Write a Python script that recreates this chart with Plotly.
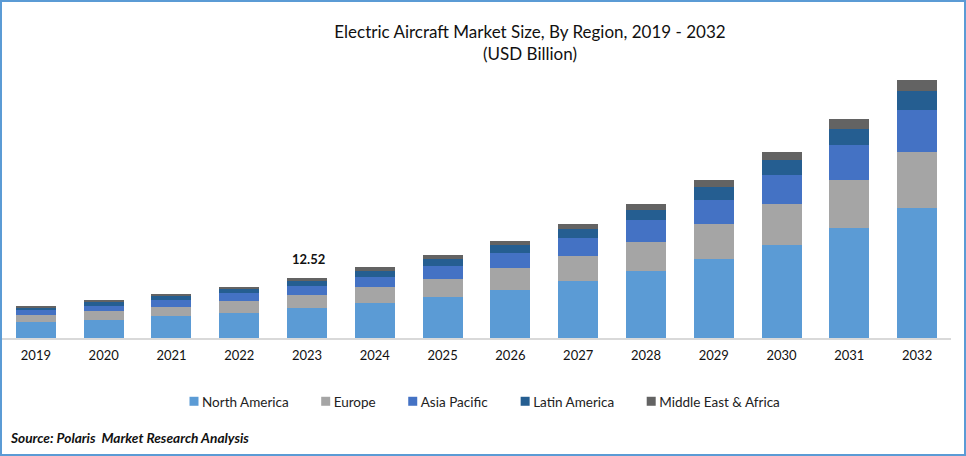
import plotly.graph_objects as go

years = ["2019","2020","2021","2022","2023","2024","2025","2026","2027","2028","2029","2030","2031","2032"]
north_america = [3.32,3.74,4.57,5.19,6.23,7.27,8.52,9.97,11.84,13.92,16.41,19.31,22.84,27.0]
europe = [1.45,1.87,1.87,2.49,2.70,3.32,3.74,4.57,5.19,6.02,7.27,8.52,9.97,11.63]
asia_pacific = [1.04,1.04,1.45,1.66,1.87,2.08,2.70,3.12,3.74,4.57,4.98,6.02,7.27,8.72]
latin_america = [0.56,0.83,0.83,0.83,1.04,1.25,1.45,1.66,1.87,2.08,2.70,3.12,3.26,3.95]
middle_east_africa = [0.27,0.42,0.42,0.42,0.68,0.83,0.83,0.83,1.04,1.25,1.45,1.66,2.14,2.28]
series_names = ["North America","Europe","Asia Pacific","Latin America","Middle East & Africa"]
colors = ["#5B9BD5","#A5A5A5","#4472C4","#255E91","#636363"]
label_year = "2023"
label_value = 12.52

FONT = "Lato, Carlito, Calibri, sans-serif"
fig = go.Figure()
for name, vals, c in zip(series_names, [north_america, europe, asia_pacific, latin_america, middle_east_africa], colors):
    fig.add_bar(x=years, y=vals, name=name, marker=dict(color=c, line=dict(width=0)))

fig.update_layout(
    barmode="stack", bargap=0.41, width=966, height=456,
    margin=dict(l=2, r=15, t=62, b=118, autoexpand=False),
    paper_bgcolor="white", plot_bgcolor="white",
    font=dict(family=FONT, size=13, color="#111111"),
    title=dict(text="Electric Aircraft Market Size, By Region, 2019 - 2032<br>(USD Billion)",
               x=530/966, xanchor="center", xref="container", y=1-38/456, yanchor="top", yref="container",
               font=dict(size=17, family=FONT, color="#111111")),
    xaxis=dict(type="category", range=[-0.5, 13.5], showline=True, linecolor="#D9D9D9", linewidth=1.5, ticks="",
               tickfont=dict(size=13, family=FONT, color="#111111"), showgrid=False, ticklabelstandoff=5),
    yaxis=dict(visible=False, range=[0, 57.3], fixedrange=True),
    legend=dict(orientation="h", x=162/966, xanchor="left", xref="container",
                y=1-386/456, yanchor="top", yref="container", traceorder="normal",
                font=dict(size=13.5, family=FONT, color="#222222"), bgcolor="rgba(0,0,0,0)"),
    annotations=[
        dict(x=years.index(label_year), y=label_value, xref="x", yref="y", text=f"<b>{label_value}</b>", showarrow=False,
             yshift=19, xshift=1, font=dict(size=13, family=FONT, color="#111111")),
        dict(x=6/949, y=(338-437)/276, xref="paper", yref="paper", xanchor="left", yanchor="middle", showarrow=False,
             text="<b><i>Source: Polaris  Market Research Analysis</i></b>",
             font=dict(size=13.7, family=FONT, color="#111111")),
    ],
    shapes=[dict(type="rect", xref="paper", yref="paper",
                 x0=-1/949, x1=(965-2)/949, y0=(338-455)/276, y1=(338-1)/276,
                 line=dict(color="#5B9BD5", width=2), fillcolor="rgba(0,0,0,0)", layer="above")],
)
post = """
document.body.style.margin='0';
document.documentElement.style.overflow='hidden';
document.querySelectorAll('.legend .legendpoints path').forEach(function(p){
  p.setAttribute('transform','translate(32,0) scale(0.75)');
});
"""
fig.write_html("out.html", config={"displayModeBar": False}, post_script=post)
